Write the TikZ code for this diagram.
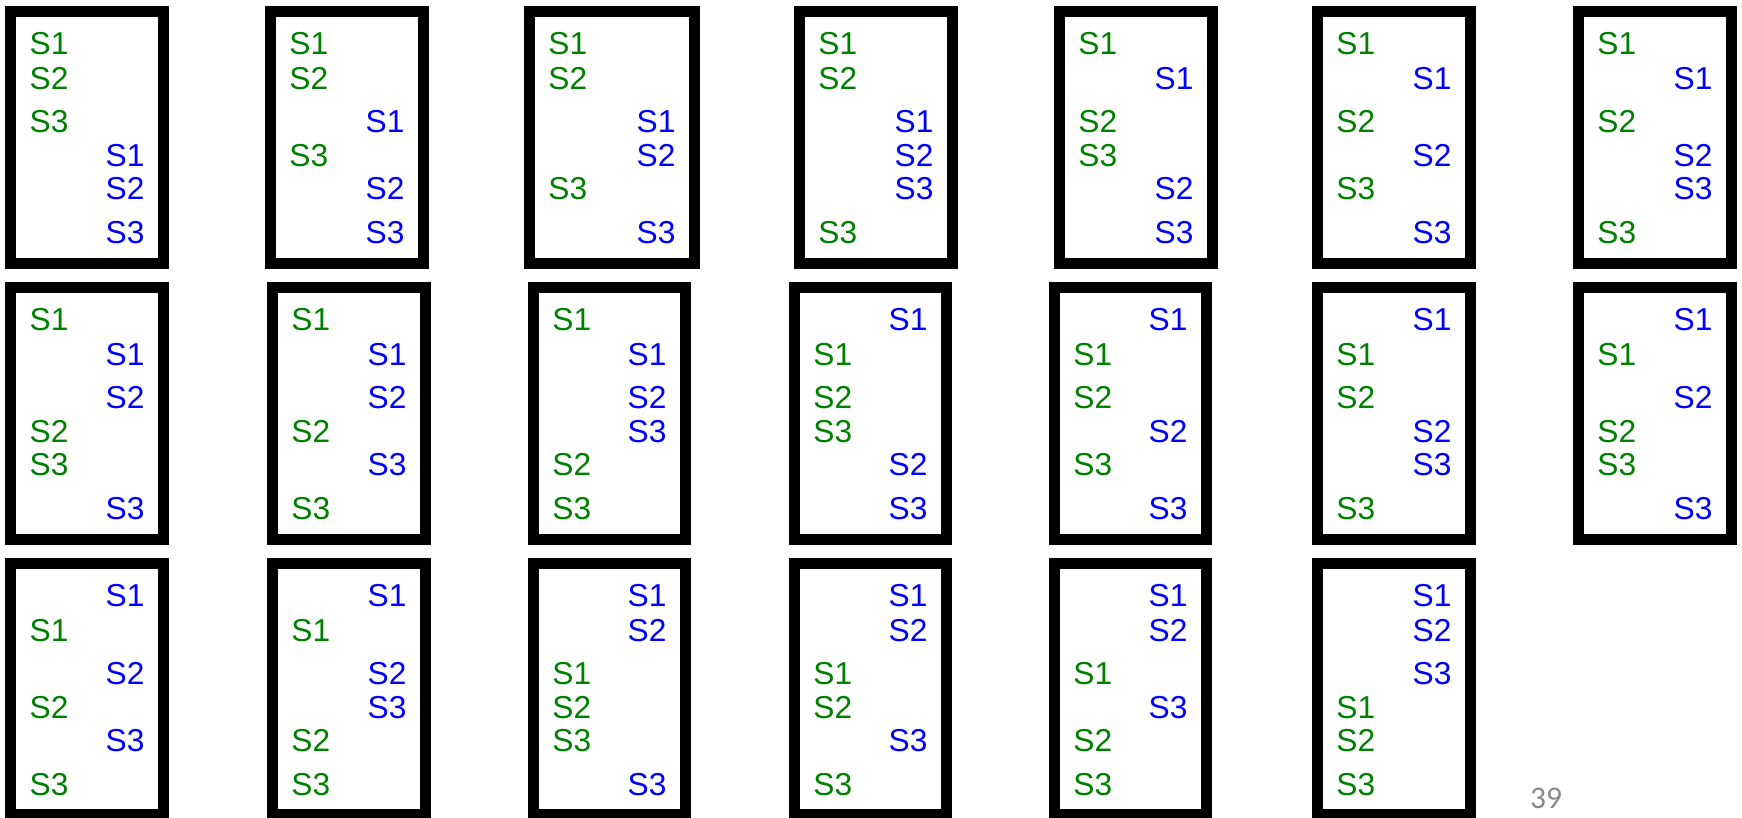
\documentclass[tikz,border=0pt]{standalone}
\usepackage{fontspec}
\setmainfont{Liberation Sans}
\newfontfamily\pagenumfont{Carlito}
\definecolor{sgreen}{RGB}{0,128,0}
\definecolor{sblue}{RGB}{0,0,255}
\definecolor{pagegray}{RGB}{137,137,137}
\newcommand\permbox[6]{%
  \pgfmathsetmacro\bw{#3-#2-11}%
  \pgfmathsetmacro\bh{#5-#4-11}%
  \node[frame,minimum width=\bw pt,minimum height=\bh pt] (#1) at (#2+5.5,#4+5.5) {};
  \foreach \c/\n [count=\i] in {#6} {%
    \pgfmathsetmacro\yy{{48.3,83.3,126,160.7,193.3,237.7}[\i-1]}%
    \if\c g
      \node[gl] (#1-\c\n) at (#2+24.2,#4+\yy) {S\n};
    \else
      \node[bl] (#1-\c\n) at (#3-63.5,#4+\yy) {S\n};
    \fi
  }%
}
\begin{document}
\begin{tikzpicture}[x=1pt,y=-1pt,
  frame/.style={draw=black,line width=11pt,anchor=north west,inner sep=0pt,outer sep=0pt},
  lbl/.style={inner sep=0pt,anchor=base west,font=\fontsize{31.7}{36}\selectfont},
  gl/.style={lbl,text=sgreen},
  bl/.style={lbl,text=sblue}]
\useasboundingbox (0,0) rectangle (1742,817);
\clip (0,0) rectangle (1742,817);
% row 1
\permbox{r1b1}{5.3}{169}{6}{269}{g/1,g/2,g/3,b/1,b/2,b/3}
\permbox{r1b2}{265}{429}{6}{269}{g/1,g/2,b/1,g/3,b/2,b/3}
\permbox{r1b3}{524}{700}{6}{269}{g/1,g/2,b/1,b/2,g/3,b/3}
\permbox{r1b4}{794}{958}{6}{269}{g/1,g/2,b/1,b/2,b/3,g/3}
\permbox{r1b5}{1054}{1218}{6}{269}{g/1,b/1,g/2,g/3,b/2,b/3}
\permbox{r1b6}{1312}{1476}{6}{269}{g/1,b/1,g/2,b/2,g/3,b/3}
\permbox{r1b7}{1573}{1737}{6}{269}{g/1,b/1,g/2,b/2,b/3,g/3}
% row 2
\permbox{r2b1}{5.3}{169}{282}{545}{g/1,b/1,b/2,g/2,g/3,b/3}
\permbox{r2b2}{267}{431}{282}{545}{g/1,b/1,b/2,g/2,b/3,g/3}
\permbox{r2b3}{528}{691}{282}{545}{g/1,b/1,b/2,b/3,g/2,g/3}
\permbox{r2b4}{789}{952}{282}{545}{b/1,g/1,g/2,g/3,b/2,b/3}
\permbox{r2b5}{1049}{1212}{282}{545}{b/1,g/1,g/2,b/2,g/3,b/3}
\permbox{r2b6}{1312}{1476}{282}{545}{b/1,g/1,g/2,b/2,b/3,g/3}
\permbox{r2b7}{1573}{1737}{282}{545}{b/1,g/1,b/2,g/2,g/3,b/3}
% row 3
\permbox{r3b1}{5.3}{169}{558}{820}{b/1,g/1,b/2,g/2,b/3,g/3}
\permbox{r3b2}{267}{431}{558}{820}{b/1,g/1,b/2,b/3,g/2,g/3}
\permbox{r3b3}{528}{691}{558}{820}{b/1,b/2,g/1,g/2,g/3,b/3}
\permbox{r3b4}{789}{952}{558}{820}{b/1,b/2,g/1,g/2,b/3,g/3}
\permbox{r3b5}{1049}{1212}{558}{820}{b/1,b/2,g/1,b/3,g/2,g/3}
\permbox{r3b6}{1312}{1476}{558}{820}{b/1,b/2,b/3,g/1,g/2,g/3}
\node[inner sep=0pt,anchor=base west,text=pagegray,font=\pagenumfont\fontsize{31.5}{36}\selectfont] (pnum) at (1530,808) {39};
\end{tikzpicture}
\end{document}
